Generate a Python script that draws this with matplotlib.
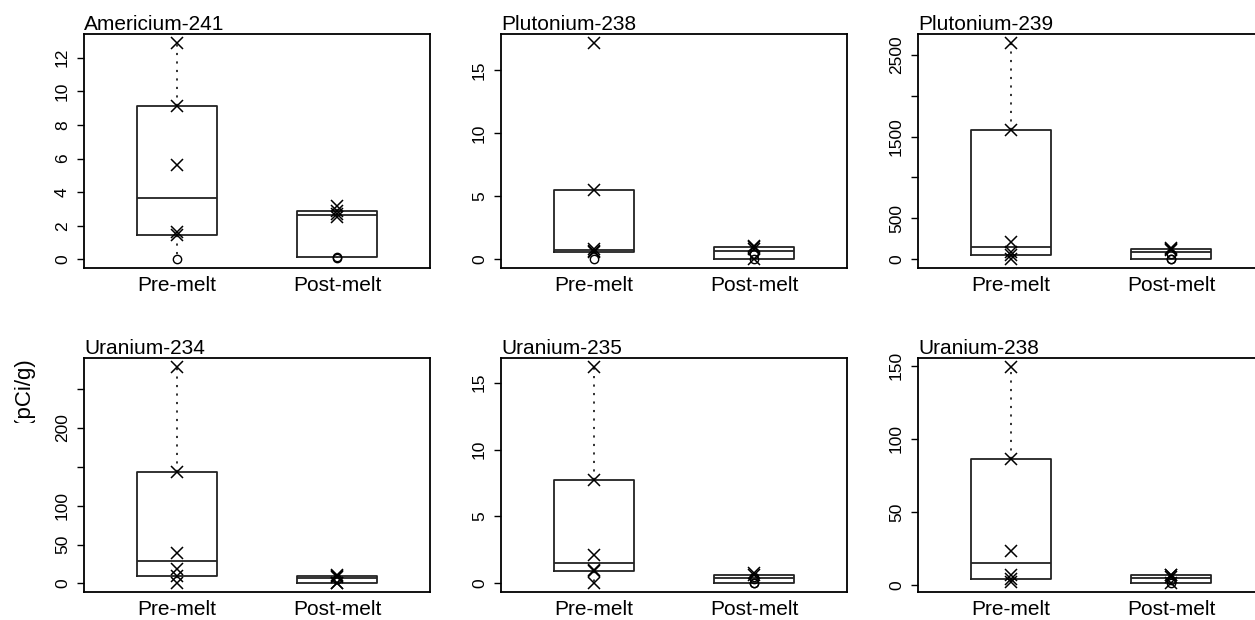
import matplotlib
matplotlib.use("Agg")
import matplotlib.pyplot as plt
from matplotlib.transforms import Bbox, TransformedBbox, IdentityTransform
import numpy as np

plt.rcParams['font.family'] = ['Liberation Sans', 'DejaVu Sans']

titles = ["Americium-241", "Plutonium-238", "Plutonium-239",
          "Uranium-234", "Uranium-235", "Uranium-238"]
groups = ["Pre-melt", "Post-melt"]
ylabel = "Activity (pCi/g)"

# detected values (drawn as crosses) and non-detects (drawn as circles)
am241_pre_det = [1.45, 1.65, 5.6, 9.1, 12.9]
am241_pre_nd = [0.0]
am241_post_det = [2.55, 2.7, 2.85, 3.15]
am241_post_nd = [0.05, 0.15]

pu238_pre_det = [0.55, 0.65, 0.8, 5.5, 17.2]
pu238_pre_nd = [0.0]
pu238_post_det = [0.0, 0.85, 0.95, 1.05]
pu238_post_nd = [0.05, 0.45]

pu239_pre_det = [0.0, 50, 85, 215, 1578, 2646]
pu239_pre_nd = []
pu239_post_det = [115, 125, 140]
pu239_post_nd = [0.0, 5, 60]

u234_pre_det = [0.0, 9.5, 18, 39, 144, 279]
u234_pre_nd = []
u234_post_det = [0.0, 0.5, 8, 10, 11]
u234_post_nd = [5]

u235_pre_det = [0.05, 0.9, 1.0, 2.1, 7.7, 16.2]
u235_pre_nd = []
u235_post_det = [0.6, 0.75]
u235_post_nd = [0.0, 0.05, 0.35, 0.5]

u238_pre_det = [2.0, 4.0, 7.0, 23, 86, 149.5]
u238_pre_nd = []
u238_post_det = [1.0, 5.5, 6.5, 7.0]
u238_post_nd = [1.4, 3.5]

yticks = [[0, 2, 4, 6, 8, 10, 12],
          [0, 5, 10, 15],
          [0, 500, 1000, 1500, 2000, 2500],
          [0, 50, 100, 150, 200, 250],
          [0, 5, 10, 15],
          [0, 50, 100, 150]]
yticklabels = [["0", "2", "4", "6", "8", "10", "12"],
               ["0", "5", "10", "15"],
               ["0", "500", "", "1500", "", "2500"],
               ["0", "50", "100", "", "200", ""],
               ["0", "5", "10", "15"],
               ["0", "50", "100", "150"]]

data = [
    [(am241_pre_det, am241_pre_nd), (am241_post_det, am241_post_nd)],
    [(pu238_pre_det, pu238_pre_nd), (pu238_post_det, pu238_post_nd)],
    [(pu239_pre_det, pu239_pre_nd), (pu239_post_det, pu239_post_nd)],
    [(u234_pre_det, u234_pre_nd), (u234_post_det, u234_post_nd)],
    [(u235_pre_det, u235_pre_nd), (u235_post_det, u235_post_nd)],
    [(u238_pre_det, u238_pre_nd), (u238_post_det, u238_post_nd)],
]


def fivenum(x):
    x = np.sort(np.asarray(x, dtype=float))
    n = len(x)
    n4 = np.floor((n + 3) / 2) / 2
    d = np.array([1, n4, (n + 1) / 2, n + 1 - n4, n])
    return 0.5 * (x[np.floor(d).astype(int) - 1] + x[np.ceil(d).astype(int) - 1])


def box_stats(x, coef=1.5):
    x = np.sort(np.asarray(x, dtype=float))
    mn, q1, med, q3, mx = fivenum(x)
    iqr = q3 - q1
    lo = x[x >= q1 - coef * iqr].min()
    hi = x[x <= q3 + coef * iqr].max()
    return dict(med=med, q1=q1, q3=q3, whislo=lo, whishi=hi, fliers=[])


W, H = 1255, 620
fig = plt.figure(figsize=(W / 100, H / 100), dpi=100)

lefts = [84, 501, 918]
tops = [34, 358]
pw, ph = 346, 234

for i in range(6):
    r, c = divmod(i, 3)
    ax = fig.add_axes([lefts[c] / W, 1 - (tops[r] + ph) / H, pw / W, ph / H])
    stats = []
    allv = []
    for det, nd in data[i]:
        vals = list(det) + list(nd)
        allv += vals
        stats.append(box_stats(vals))
    ax.bxp(stats, positions=[1, 2], widths=0.5, showcaps=False, showfliers=False,
           boxprops=dict(color="#222222", linewidth=1.3),
           medianprops=dict(color="#222222", linewidth=1.3),
           whiskerprops=dict(color="#222222", linewidth=1.3, linestyle=(0, (1.2, 3.5))))
    for k, (det, nd) in enumerate(data[i]):
        ax.plot([k + 1] * len(det), det, linestyle="none", marker="x",
                markersize=8, mew=1.1, color="black", zorder=5)
        ax.plot([k + 1] * len(nd), nd, linestyle="none", marker="o",
                markersize=6, mew=1.0, mfc="none", color="black", zorder=5)
    lo, hi = min(allv), max(allv)
    pad = 0.04 * (hi - lo)
    ax.set_ylim(lo - pad, hi + pad)
    ax.set_xlim(0.42, 2.58)
    ax.set_yticks(yticks[i])
    ax.set_yticklabels(yticklabels[i], rotation=90, va="center", fontsize=12.5)
    ax.set_xticks([1, 2])
    ax.set_xticklabels(groups, fontsize=15)
    ax.tick_params(axis="x", length=0, pad=6)
    ax.tick_params(axis="y", length=5, width=1.0, pad=5, direction="out")
    for s in ax.spines.values():
        s.set_linewidth(1.3)
    ax.set_title(titles[i], loc="left", fontsize=15, pad=3)

t = fig.text(26 / W, 1 - 359 / H, ylabel, rotation=90, ha="center", va="top", fontsize=16)
t.set_clip_box(TransformedBbox(Bbox([[0, H - 423], [W, H]]), IdentityTransform()))
t.set_clip_on(True)

fig.savefig("out.png", dpi=100)
